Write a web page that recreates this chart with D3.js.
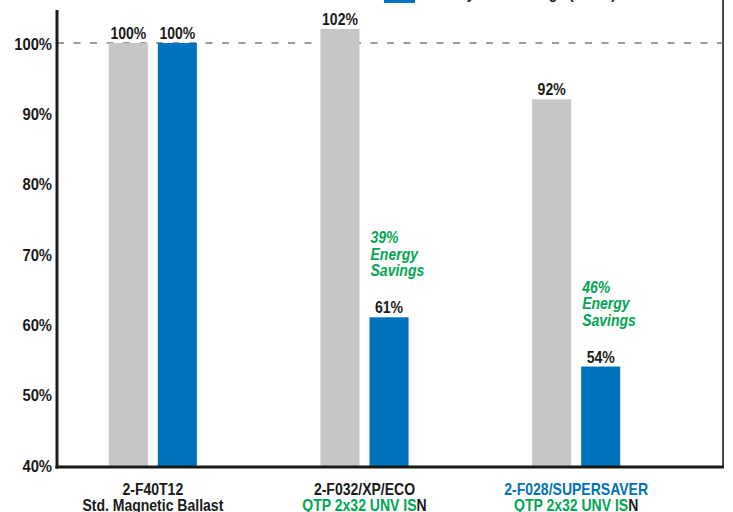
<!DOCTYPE html>
<html>
<head>
<meta charset="utf-8">
<script src="https://cdn.jsdelivr.net/npm/d3@7"></script>
<style>
    body { margin: 0; background: #fff; }
    svg text {
        font-family: 'Liberation Sans', Arial, sans-serif;
        font-weight: bold;
    }
</style>
</head>
<body>
<svg id="chart" width="733" height="512"></svg>
<script>
// --- Chart data ----------------------------------------------------

var categories = ['2-F40T12', '2-F032/XP/ECO', '2-F028/SUPERSAVER'];
var subLabels = [
    ['Std. Magnetic Ballast', ''],
    ['QTP 2x32 UNV IS', 'N'],
    ['QTP 2x32 UNV IS', 'N']
];
var series = ['baseline', 'qtp'];
var baselineValues = [100, 102, 92];
var qtpValues = [100, 61, 54];
var yTicks = [40, 50, 60, 70, 80, 90, 100];
var referenceLevel = 100;
var highlightCategory = '2-F028/SUPERSAVER';
var legendLabel = 'Total System Wattage (Watts)';

(function () {
    'use strict';

    var left = 57, right = 723, top = 10, bottom = 467,
        SX = 0.85;      // horizontal squeeze to fake a condensed face

    var colors = {
        baseline: '#c5c6c8',
        qtp: '#0071bc',
        green: '#00a651',
        ink: '#1a1a1a'
    };

    var svg = d3.select('#chart'),
        x, xs, y;

    function squeeze(sel, px, py) {
        return sel.attr('transform',
            'translate(' + px + ',' + py + ') scale(' + SX + ',1)');
    }

    // --- Scales --------------------------------------------------------

    function setUpScales() {
        y = d3.scaleLinear().domain([40, 100]).range([465, 43]);
        // groups are not centred in the plot, so the band range is shifted
        x = d3.scaleBand().domain(categories).range([47, 682]);
        xs = d3.scaleBand().domain(series)
            .range([0, x.bandwidth()])
            .paddingInner(0.204)
            .paddingOuter(1.26);
    }

    // --- Axes and frame ------------------------------------------------

    function drawFrame() {
        // right border
        svg.append('line')
            .attr('x1', right).attr('x2', right)
            .attr('y1', 0).attr('y2', bottom)
            .attr('stroke', colors.ink).attr('stroke-width', 1.6);

        var yAxis = d3.axisLeft(y)
            .tickValues(yTicks)
            .tickSize(0)
            .tickPadding(0)
            .tickFormat(function (d) { return d + '%'; });

        var g = svg.append('g')
            .attr('transform', 'translate(' + left + ',0)')
            .call(yAxis);
        g.select('.domain').remove();
        g.selectAll('text')
            .attr('x', 0)
            .attr('dy', '0.36em')
            .attr('transform', 'translate(-5,0) scale(0.87,1)')
            .attr('fill', colors.ink)
            .style('font-size', '17px')
            .style('font-family', null);

        // reference line at 100%
        svg.append('line')
            .attr('x1', left).attr('x2', right)
            .attr('y1', y(referenceLevel)).attr('y2', y(referenceLevel))
            .attr('stroke', '#7a7a7a')
            .attr('stroke-width', 1.5)
            .attr('stroke-dasharray', '7,9.5');
    }

    function drawAxisLines() {
        svg.append('line')
            .attr('x1', left).attr('x2', left)
            .attr('y1', top).attr('y2', bottom + 1.5)
            .attr('stroke', colors.ink).attr('stroke-width', 3);
        svg.append('line')
            .attr('x1', left - 1.5).attr('x2', right + 1)
            .attr('y1', bottom).attr('y2', bottom)
            .attr('stroke', colors.ink).attr('stroke-width', 3);
    }

    // --- Bars ----------------------------------------------------------

    function drawBars() {
        var rows = categories.map(function (c, i) {
            return { cat: c, values: [
                { key: 'baseline', v: baselineValues[i] },
                { key: 'qtp', v: qtpValues[i] }
            ]};
        });

        var groups = svg.append('g').selectAll('g')
            .data(rows)
            .join('g')
            .attr('transform', function (d) {
                return 'translate(' + x(d.cat) + ',0)';
            });

        // bars run down to the axis line
        groups.selectAll('rect')
            .data(function (d) { return d.values; })
            .join('rect')
            .attr('x', function (d) { return xs(d.key); })
            .attr('width', xs.bandwidth())
            .attr('y', function (d) { return y(d.v); })
            .attr('height', function (d) { return bottom - y(d.v); })
            .attr('fill', function (d) { return colors[d.key]; });

        groups.selectAll('text')
            .data(function (d) { return d.values; })
            .join('text')
            .each(function (d) {
                squeeze(d3.select(this),
                    xs(d.key) + xs.bandwidth() / 2, y(d.v) - 4);
            })
            .attr('text-anchor', 'middle')
            .attr('fill', colors.ink)
            .style('font-size', '16.5px')
            .text(function (d) { return d.v + '%'; });
    }

    // --- Savings call-outs ---------------------------------------------

    function drawSavings() {
        categories.forEach(function (c, i) {
            var saved = baselineValues[0] - qtpValues[i], t;
            if (!saved) { return; }
            t = squeeze(svg.append('text'),
                    x(c) + xs('qtp') + 1, y(qtpValues[i]) - 74)
                .attr('fill', colors.green)
                .style('font-size', '16.5px')
                .style('font-style', 'italic');
            [saved + '%', 'Energy', 'Savings'].forEach(function (s, k) {
                t.append('tspan')
                    .attr('x', 0)
                    .attr('dy', k ? 16.5 : 0)
                    .text(s);
            });
        });
    }

    // --- Category labels -----------------------------------------------

    function drawCategoryLabels() {
        var g = svg.append('g');
        categories.forEach(function (c, i) {
            var cx = x(c) + x.bandwidth() / 2, t;
            squeeze(g.append('text'), cx, 495)
                .attr('text-anchor', 'middle')
                .attr('fill', c === highlightCategory ? colors.qtp : colors.ink)
                .style('font-size', '16.5px')
                .text(c);
            t = squeeze(g.append('text'), cx, 511)
                .attr('text-anchor', 'middle')
                .style('font-size', '16.5px');
            t.append('tspan')
                .attr('fill', i ? colors.green : colors.ink)
                .text(subLabels[i][0]);
            t.append('tspan')
                .attr('fill', colors.ink)
                .text(subLabels[i][1]);
        });
    }

    // --- Legend (mostly cropped off the top) ---------------------------

    function drawLegend() {
        svg.append('rect')
            .attr('x', 384).attr('y', -12)
            .attr('width', 31).attr('height', 15)
            .attr('fill', colors.qtp);
        squeeze(svg.append('text'), 421, -1)
            .attr('fill', colors.ink)
            .style('font-size', '16.5px')
            .text(legendLabel);
    }

    setUpScales();
    drawFrame();
    drawBars();
    drawAxisLines();
    drawSavings();
    drawCategoryLabels();
    drawLegend();
}());
</script>
</body>
</html>
